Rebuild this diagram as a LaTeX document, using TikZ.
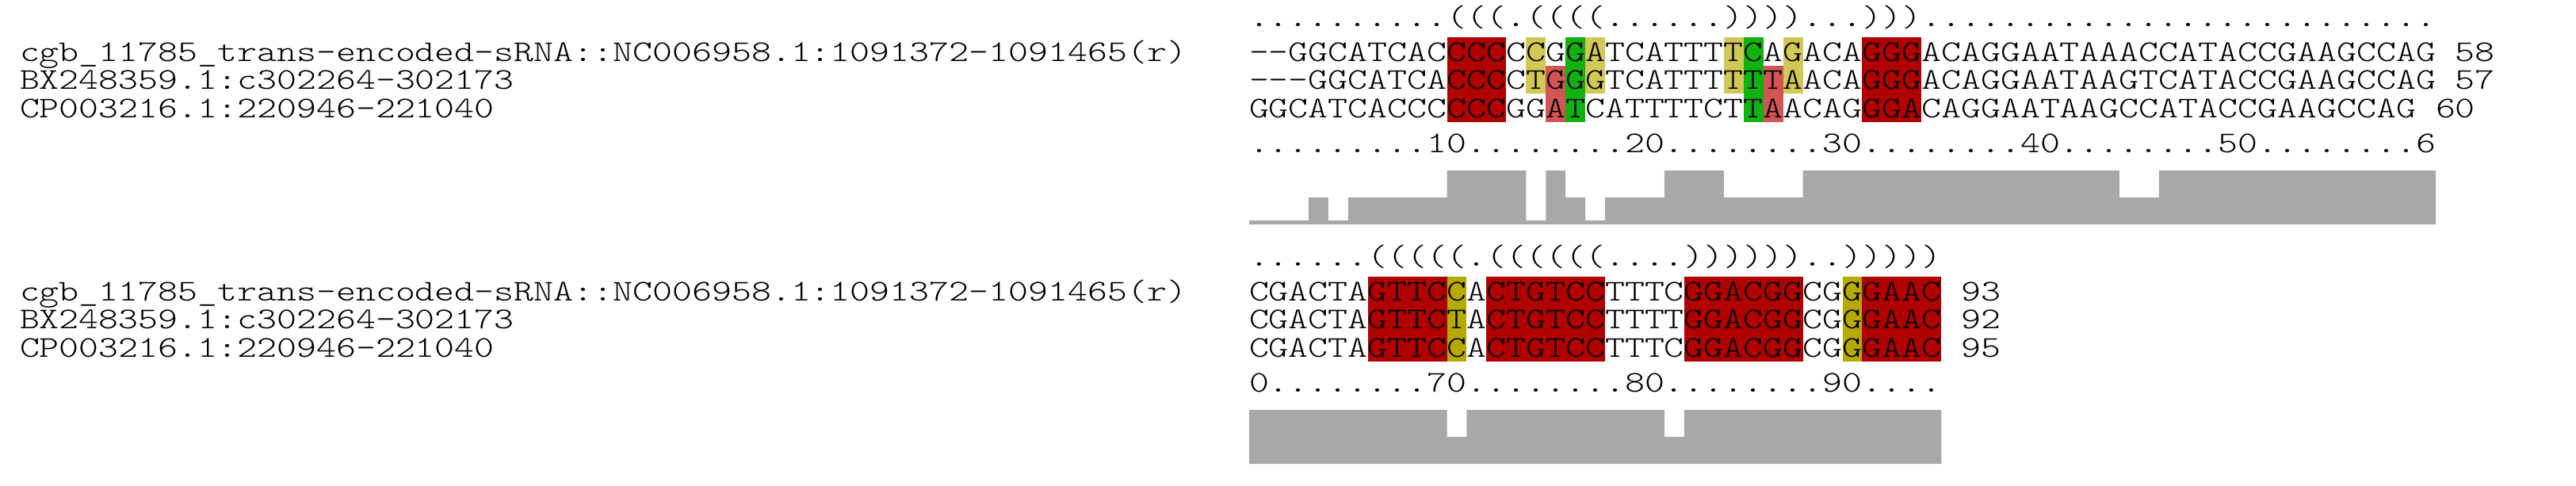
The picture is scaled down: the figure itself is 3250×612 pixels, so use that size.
\documentclass[tikz,border=0pt]{standalone}
\usepackage{graphicx}
\definecolor{cRed}{RGB}{176,0,0}
\definecolor{cYel}{RGB}{210,200,85}
\definecolor{cPink}{RGB}{210,85,85}
\definecolor{cGrn}{RGB}{16,178,16}
\definecolor{cOli}{RGB}{181,170,0}
\definecolor{cBar}{RGB}{168,168,168}
\newcommand\gp{\mbox{-}}
\newcommand\seqtxt[1]{\scalebox{1.2506}[1]{\fontsize{9.5pt}{10pt}\ttfamily\fontseries{l}\selectfont #1}}
% highlight box: colour, first col, last col, first row, last row
\newcommand\hlb[5]{\fill[#1] ({1576+24.95*#2},{47.3+35.4*(#4-1)}) rectangle ({1576+24.95*(#3+1)},{47.3+35.4*#5});}
% bar segment: first col, last col, top y
\newcommand\bc[3]{({1576+24.95*#1},#3) rectangle ({1576+24.95*(#2+1)},283)}
\tikzset{seq/.style={anchor=base west, inner sep=0pt, outer sep=0pt}}
\begin{document}
\begin{tikzpicture}[x=0.25pt,y=-0.25pt]
\useasboundingbox[fill=white] (0,0) rectangle (3250,612);
% ---------------- top block ----------------
\hlb{cRed}{10}{12}{1}{3}
\hlb{cRed}{31}{33}{1}{3}
\hlb{cYel}{14}{14}{1}{2}
\hlb{cYel}{17}{17}{1}{2}
\hlb{cYel}{24}{24}{1}{2}
\hlb{cYel}{27}{27}{1}{2}
\hlb{cPink}{15}{15}{2}{3}
\hlb{cPink}{26}{26}{2}{3}
\hlb{cGrn}{16}{16}{1}{3}
\hlb{cGrn}{25}{25}{1}{3}
\fill[cBar] \bc{0}{59}{278} \bc{3}{3}{249} \bc{5}{9}{249} \bc{16}{16}{249} \bc{18}{20}{249} \bc{24}{27}{249} \bc{44}{45}{249}
  \bc{10}{13}{215} \bc{15}{15}{215} \bc{21}{23}{215} \bc{28}{43}{215} \bc{46}{59}{215};
\node[seq] (tstruct) at (1576,33) {\seqtxt{..........(((.((((......))))...)))..........................}};
\node[seq] (tl1) at (25,77.3) {\seqtxt{cgb\_11785\_trans-encoded-sRNA::NC006958.1:1091372-1091465(r)}};
\node[seq] (tl2) at (25,112.7) {\seqtxt{BX248359.1:c302264-302173}};
\node[seq] (tl3) at (25,148.1) {\seqtxt{CP003216.1:220946-221040}};
\node[seq] (tr1) at (1576,77.3) {\seqtxt{\gp\gp GGCATCACCCCCCGGATCATTTTCAGACAGGGACAGGAATAAACCATACCGAAGCCAG 58}};
\node[seq] (tr2) at (1576,112.7) {\seqtxt{\gp\gp\gp GGCATCACCCCTGGGTCATTTTTTAACAGGGACAGGAATAAGTCATACCGAAGCCAG 57}};
\node[seq] (tr3) at (1576,148.1) {\seqtxt{GGCATCACCCCCCGGATCATTTTCTTAACAGGGACAGGAATAAGCCATACCGAAGCCAG 60}};
\node[seq] (truler) at (1576,192) {\seqtxt{.........10........20........30........40........50........6}};
% ---------------- bottom block ----------------
\begin{scope}[yshift=-75.5pt]
\hlb{cRed}{6}{9}{1}{3}
\hlb{cRed}{12}{17}{1}{3}
\hlb{cRed}{22}{27}{1}{3}
\hlb{cRed}{31}{34}{1}{3}
\hlb{cOli}{10}{10}{1}{3}
\hlb{cOli}{30}{30}{1}{3}
\fill[cBar] \bc{0}{34}{249} \bc{0}{9}{215} \bc{11}{20}{215} \bc{22}{34}{215};
\node[seq] (bstruct) at (1576,33) {\seqtxt{......(((((.((((((....))))))..)))))}};
\node[seq] (bl1) at (25,77.3) {\seqtxt{cgb\_11785\_trans-encoded-sRNA::NC006958.1:1091372-1091465(r)}};
\node[seq] (bl2) at (25,112.7) {\seqtxt{BX248359.1:c302264-302173}};
\node[seq] (bl3) at (25,148.1) {\seqtxt{CP003216.1:220946-221040}};
\node[seq] (br1) at (1576,77.3) {\seqtxt{CGACTAGTTCCACTGTCCTTTCGGACGGCGGGAAC 93}};
\node[seq] (br2) at (1576,112.7) {\seqtxt{CGACTAGTTCTACTGTCCTTTTGGACGGCGGGAAC 92}};
\node[seq] (br3) at (1576,148.1) {\seqtxt{CGACTAGTTCCACTGTCCTTTCGGACGGCGGGAAC 95}};
\node[seq] (bruler) at (1576,192) {\seqtxt{0........70........80........90....}};
\end{scope}
\end{tikzpicture}
\end{document}
